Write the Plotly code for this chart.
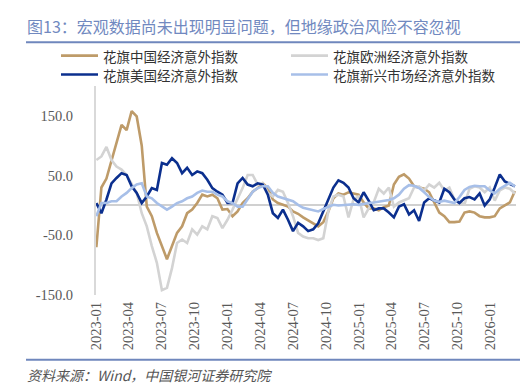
import pandas as pd
import plotly.graph_objects as go

# ---------------- data (bi-weekly samples) ----------------
dates = pd.date_range("2023-01-02", periods=84, freq="14D")

china = [-70, 30, 45, 76, 104, 135, 126, 158, 149, 100,
         -2, -18, -46, -68, -90, -68, -46, -35, -13, -7,
         4, 18, 15, 18, 12, -7, -6, -18, -10, 4,
         12, 23, 29, 37, 29, 10, 4, 1, -2, -10,
         -14, -20, -25, -30, -35, -28, -10, 12, 20, 18,
         22, 20, 18, 5, -5, -5, -8, -3, 0, 35,
         48, 52, 45, 32, 30, 28, 22, 5, -12, -18,
         -28, -28, -27, -12, -10, -12, -18, -20, -20, -18,
         -5, 0, 5, 24]

europe = [76, 82, 98, 76, 65, 60, 51, 35, 21, -13,
          -35, -68, -96, -142, -138, -105, -63, -57, -63, -40,
          -49, -35, -40, -18, -21, -38, -24, -7, 10, 29,
          51, 51, 35, 37, 21, 15, 26, 23, 4, -18,
          -46, -52, -55, -55, -58, -55, -10, 15, 18, 15,
          -20, 10, 15, -20, -5, 5, 28, 20, 30, -2,
          5, 8, 12, 30, 32, 25, 35, 30, 38, 25,
          30, 10, 5, 2, 28, 32, 30, 22, 30, 8,
          25, 30, 28, 20]

usa = [4, -13, 10, 37, 46, 54, 51, 32, 21, 4,
       15, 29, 26, 71, 68, 79, 71, 54, 63, 51,
       57, 54, 43, 29, 23, 18, 4, 4, 37, 46,
       35, 32, 37, 35, 18, -13, -21, -7, -24, -43,
       -29, -35, -43, -40, -30, -10, 10, 30, 42, 38,
       30, 12, 5, 22, 8, -8, -5, -5, -12, -20,
       -2, 2, -15, -8, -26, 5, 12, 8, 5, 28,
       22, 10, 4, 12, 14, 10, 20, 0, 10, 30,
       52, 40, 36, 32]

emerging = [-18, 4, 4, 7, 7, 15, 21, 29, 35, 37,
            15, 12, 4, -2, -7, -2, 4, 7, 12, 15,
            21, 25, 23, 23, 18, 15, 7, 4, -2, -2,
            10, 23, 29, 32, 32, 21, 15, 12, 10, 7,
            1, -4, -6, -8, -10, -6, -2, 1, 0, 1,
            1, 2, 1, 3, 4, 5, 6, 7, 9, 12,
            18, 28, 34, 33, 29, 22, 14, 8, 6, 8,
            6, 4, 14, 26, 31, 33, 32, 32, 25, 20,
            28, 33, 38, 32]

names = ["花旗中国经济意外指数", "花旗欧洲经济意外指数",
         "花旗美国经济意外指数", "花旗新兴市场经济意外指数"]
colors = ["#BE9B69", "#D3D3D3", "#0B2F8E", "#A7BFE8"]
series = [china, europe, usa, emerging]

tick_vals = ["2023-01-01", "2023-04-01", "2023-07-01", "2023-10-01",
             "2024-01-01", "2024-04-01", "2024-07-01", "2024-10-01",
             "2025-01-01", "2025-04-01", "2025-07-01", "2025-10-01",
             "2026-01-01"]
tick_text = ["2023-01", "2023-04", "2023-07", "2023-10",
             "2024-01", "2024-04", "2024-07", "2024-10",
             "2025-01", "2025-04", "2025-07", "2025-10",
             "2026-01"]

title_text = "图13：宏观数据尚未出现明显问题，但地缘政治风险不容忽视"
source_text = "<i>资料来源：Wind，中国银河证券研究院</i>"

# ---------------- figure ----------------
W, H = 528, 389
L, R, T, B = 88, 20, 77.5, 101.5
PW, PH = W - L - R, H - T - B


def px_x(x):
    return (x - L) / PW


def px_y(y):
    return (H - B - y) / PH


fig = go.Figure()
for n, c, s in zip(names, colors, series):
    fig.add_trace(go.Scatter(x=dates, y=s, mode="lines", name=n,
                             line=dict(color=c, width=2.6)))

cjk = "Noto Sans CJK SC"
serif = "Liberation Serif"

fig.update_layout(
    width=W, height=H,
    margin=dict(l=L, r=R, t=T, b=B, autoexpand=False),
    paper_bgcolor="white", plot_bgcolor="white",
    showlegend=False,
    xaxis=dict(range=["2023-01-01", "2026-03-12"], tickmode="array",
               tickvals=tick_vals, ticktext=tick_text, tickangle=-90,
               showgrid=False, showline=False, zeroline=False, ticks="",
               ticklabelstandoff=3,
               tickfont=dict(family=serif, size=14.5, color="#595959")),
    yaxis=dict(range=[-150, 200], tickmode="array",
               tickvals=[-150, -50, 50, 150],
               ticktext=["-150.0", "-50.0", "50.0", "150.0"],
               showgrid=False, zeroline=True, zerolinecolor="#D0D0D0",
               zerolinewidth=2, showline=True, linecolor="#D9D9D9",
               linewidth=2, ticks="", ticklabelstandoff=18,
               tickfont=dict(family=serif, size=14.5, color="#595959")),
)

# legend (drawn by hand to match the two-column layout)
legend_pos = [(53, 47), (283, 47), (53, 66), (283, 66)]
for (lx, ly), n, c in zip(legend_pos, names, colors):
    fig.add_shape(type="line", xref="paper", yref="paper",
                  x0=px_x(lx), x1=px_x(lx + 37), y0=px_y(ly), y1=px_y(ly),
                  line=dict(color=c, width=2.6))
    fig.add_annotation(text=n, xref="paper", yref="paper",
                       x=px_x(lx + 40), y=px_y(ly), xanchor="left",
                       yanchor="middle", showarrow=False,
                       font=dict(family=cjk, size=13.5, color="#333333"))

# title, separators, source
fig.add_annotation(text=title_text, xref="paper", yref="paper",
                   x=px_x(17), y=px_y(17),
                   xanchor="left", yanchor="middle", showarrow=False,
                   font=dict(family=cjk, size=16, color="#7189C0"))
fig.add_annotation(text=source_text, xref="paper", yref="paper",
                   x=px_x(17), y=px_y(368),
                   xanchor="left", yanchor="middle", showarrow=False,
                   font=dict(family=cjk, size=14, color="#555555"))
for ypx in (33.5, 352.5):
    fig.add_shape(type="line", xref="paper", yref="paper",
                  x0=px_x(18), x1=px_x(513),
                  y0=px_y(ypx), y1=px_y(ypx),
                  line=dict(color="#6F87BD", width=2))

fig.write_html("out.html")
